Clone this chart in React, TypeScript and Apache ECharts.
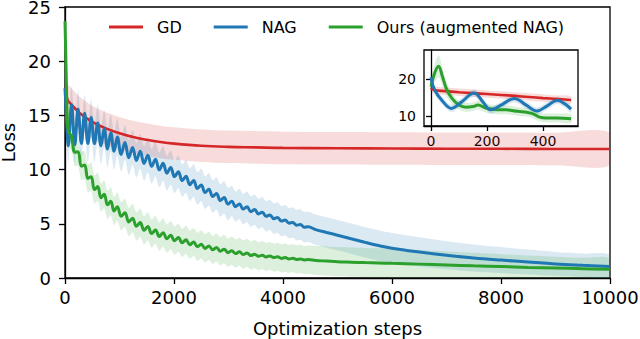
import React, { useEffect, useRef } from "react";
import * as echarts from "echarts";

// ---------- main panel data ----------
const steps = [
  0, 20, 40, 60, 120, 180, 240, 300, 360, 420, 480, 540, 600, 660, 720, 780, 840, 900, 960,
  1030, 1100, 1170, 1240, 1310, 1380, 1450, 1520, 1590, 1660, 1730, 1800, 1870, 1940,
  2010, 2080, 2150, 2220, 2290, 2360, 2430, 2500, 2570, 2640, 2710, 2780, 2850, 2920, 2990,
  3060, 3130, 3200, 3270, 3340, 3410, 3480, 3550, 3620, 3690, 3760, 3830, 3900, 3970,
  4040, 4110, 4180, 4250, 4320, 4390, 4460,
  4600, 4800, 5000, 5250, 5500, 5750, 6000, 6500, 7000, 7500, 8000, 8500, 9000, 9500, 10000,
];

const nagLoss = [
  17.5, 15.6, 13.4, 12.2, 16.0, 12.3, 15.6, 12.4, 15.2, 12.4, 14.8, 12.4, 14.3, 12.2, 13.8, 11.9, 13.4, 11.7, 13.0,
  11.4, 12.5, 11.1, 12.05, 10.84, 11.69, 10.57, 11.33, 10.3, 10.96, 9.98, 10.58, 9.67, 10.19,
  9.34, 9.8, 8.98, 9.39, 8.61, 8.99, 8.25, 8.59, 7.88, 8.19, 7.51, 7.79, 7.15, 7.42, 6.82,
  7.09, 6.58, 6.83, 6.36, 6.57, 6.12, 6.31, 5.91, 6.07, 5.69, 5.82, 5.47, 5.58, 5.25,
  5.34, 5.06, 5.13, 4.87, 4.93, 4.69, 4.72,
  4.46, 4.2, 3.95, 3.62, 3.3, 3.0, 2.75, 2.4, 2.1, 1.85, 1.65, 1.47, 1.3, 1.17, 1.05,
];

const nagSpread = [
  1.7, 1.7, 1.7, 1.7, 1.7, 1.7, 1.7, 1.7, 1.7, 1.7, 1.7, 1.7, 1.7, 1.7, 1.7, 1.7, 1.7, 1.7, 1.7,
  1.6, 1.6, 1.6, 1.6, 1.6, 1.6, 1.6, 1.6, 1.6, 1.6, 1.6, 1.6, 1.6, 1.6,
  1.5, 1.5, 1.5, 1.5, 1.5, 1.5, 1.5, 1.5, 1.5, 1.5, 1.5, 1.5, 1.5, 1.5, 1.5,
  1.4, 1.4, 1.4, 1.4, 1.4, 1.4, 1.4, 1.4, 1.4, 1.4, 1.4, 1.4, 1.4, 1.4,
  1.4, 1.4, 1.4, 1.4, 1.4, 1.4, 1.4,
  1.4, 1.4, 1.4, 1.4, 1.4, 1.4, 1.4, 1.35, 1.3, 1.25, 1.2, 1.15, 1.1, 1.08, 1.05,
];

const oursLoss = [
  23.7, 19.3, 15.0, 13.6, 13.01, 11.61, 11.64, 10.32, 10.42, 9.19, 9.35, 8.16, 8.43, 7.41, 7.72, 6.75, 7.07, 6.18, 6.58,
  5.69, 6.02, 5.17, 5.52, 4.77, 5.11, 4.4, 4.75, 4.1, 4.43, 3.82, 4.18, 3.63, 3.95,
  3.44, 3.73, 3.25, 3.52, 3.07, 3.32, 2.88, 3.11, 2.73, 2.96, 2.6, 2.81, 2.47, 2.66, 2.34,
  2.52, 2.25, 2.42, 2.16, 2.31, 2.07, 2.2, 2.0, 2.11, 1.94, 2.03, 1.88, 1.96, 1.81,
  1.88, 1.76, 1.82, 1.71, 1.76, 1.66, 1.7,
  1.62, 1.56, 1.5, 1.46, 1.42, 1.39, 1.35, 1.28, 1.2, 1.12, 1.05, 0.98, 0.92, 0.86, 0.8,
];

const oursSpread = [
  2.0, 1.6, 1.4, 1.3, 1.3, 1.3, 1.3, 1.3, 1.3, 1.3, 1.3, 1.3, 1.3, 1.3, 1.3, 1.3, 1.3, 1.3, 1.3,
  1.3, 1.3, 1.3, 1.3, 1.3, 1.3, 1.3, 1.3, 1.3, 1.3, 1.3, 1.3, 1.3, 1.3,
  1.3, 1.3, 1.3, 1.3, 1.3, 1.3, 1.3, 1.3, 1.3, 1.3, 1.3, 1.3, 1.3, 1.3, 1.3,
  1.3, 1.3, 1.3, 1.3, 1.3, 1.3, 1.3, 1.3, 1.3, 1.3, 1.3, 1.3, 1.3, 1.3,
  1.3, 1.3, 1.3, 1.3, 1.3, 1.3, 1.3,
  1.35, 1.35, 1.35, 1.35, 1.35, 1.35, 1.35, 1.3, 1.25, 1.2, 1.15, 1.1, 1.05, 1.0, 1.0,
];

const gdSteps = [0, 50, 130, 250, 500, 750, 1000, 1250, 1500, 1750, 2000, 2500, 3000, 3500, 4000, 5000, 6000, 7000, 8000, 9000, 10000];
const gdLoss = [17.5, 16.4, 15.95, 15.3, 14.4, 13.8, 13.35, 13.0, 12.75, 12.55, 12.4, 12.2, 12.1, 12.05, 12.0, 11.97, 11.95, 11.93, 11.92, 11.9, 11.9];
const gdSpread = [1.6, 1.55, 1.5, 1.5, 1.5, 1.5, 1.5, 1.5, 1.5, 1.5, 1.5, 1.5, 1.5, 1.5, 1.5, 1.5, 1.5, 1.5, 1.5, 1.5, 1.5];

// ---------- inset data (first 500 steps) ----------
const insetGdSteps = [0, 10, 50, 100, 150, 200, 250, 300, 350, 400, 450, 500];
const insetGdLoss = [17.8, 17.1, 16.8, 16.5, 16.25, 16.0, 15.75, 15.5, 15.2, 14.9, 14.65, 14.4];
const insetGdSpread = [1.0, 1.0, 1.0, 1.0, 1.0, 1.0, 1.0, 1.0, 1.0, 1.0, 1.0, 1.0];

const insetNagSteps = [0, 12, 40, 73, 110, 154, 185, 213, 255, 297, 340, 378, 415, 451, 480, 500];
const insetNagLoss = [20.6, 17.3, 14.2, 12.1, 13.9, 16.3, 13.9, 11.7, 13.2, 14.8, 13.0, 11.4, 12.8, 14.3, 13.2, 11.9];
const insetNagSpread = [1.4, 1.2, 1.0, 1.0, 1.0, 1.0, 1.0, 1.0, 1.0, 1.0, 1.0, 1.0, 1.0, 1.0, 1.0, 1.0];

const insetOursSteps = [0, 12, 27, 40, 55, 75, 100, 125, 150, 168, 195, 230, 270, 310, 345, 365, 385, 410, 450, 500];
const insetOursLoss = [18.0, 21.5, 23.6, 21.0, 17.5, 14.8, 13.0, 12.4, 12.6, 13.0, 12.2, 11.8, 11.7, 11.3, 11.0, 10.6, 9.8, 9.5, 9.5, 9.3];
const insetOursSpread = [1.5, 2.5, 3.0, 2.5, 2.0, 1.5, 1.2, 1.2, 1.2, 1.2, 1.2, 1.2, 1.2, 1.2, 1.2, 1.2, 1.2, 1.2, 1.2, 1.2];

const insetXTicks = [0, 200, 400];
const insetYTicks = [10, 20];

const RED = "#d62728";
const BLUE = "#1f77b4";
const GREEN = "#2ca02c";
const FONT = "DejaVu Sans";

function band(xs: number[], ys: number[], sp: number[], color: string, xi: number, z: number) {
  const upper = xs.map((x, i) => [x, ys[i] + sp[i]]);
  const lower = xs.map((x, i) => [x, ys[i] - sp[i]]);
  return {
    type: "custom",
    xAxisIndex: xi,
    yAxisIndex: xi,
    silent: true,
    clip: true,
    z,
    data: [[xs[0], ys[0]]],
    renderItem: (params: any, api: any) => {
      const cs = params.coordSys;
      const pts = upper.map((p) => api.coord(p)).concat(lower.slice().reverse().map((p) => api.coord(p)));
      return {
        type: "polygon",
        shape: { points: pts, smooth: 0.3 },
        style: { fill: color, opacity: 0.16 },
        clipPath: { type: "rect", shape: { x: cs.x, y: cs.y, width: cs.width, height: cs.height } },
      };
    },
  };
}

function line(name: string | undefined, xs: number[], ys: number[], color: string, width: number, xi: number, z: number) {
  return {
    type: "line",
    name,
    xAxisIndex: xi,
    yAxisIndex: xi,
    data: xs.map((x, i) => [x, ys[i]]),
    symbol: "none",
    showSymbol: false,
    smooth: 0.4,
    clip: true,
    silent: true,
    z,
    lineStyle: { color, width },
    itemStyle: { color },
  };
}

const plain = (v: number) => String(v);

export default function App() {
  const ref = useRef<HTMLDivElement>(null);
  useEffect(() => {
    if (!ref.current) return;
    const chart = echarts.init(ref.current, undefined, { renderer: "svg" });
    const axisLine = { show: true, lineStyle: { color: "#000", width: 1.3 } };
    const tick = (len: number, extra: any = {}) => ({ show: true, inside: false, length: len, lineStyle: { color: "#000", width: 1.3 }, ...extra });
    chart.setOption({
      animation: false,
      backgroundColor: "#fff",
      grid: [
        { left: 65, top: 7, width: 545, height: 271, show: true, borderColor: "#000", borderWidth: 1.3, backgroundColor: "transparent", containLabel: false, outerBoundsMode: "none" },
        { left: 424, top: 50, width: 154, height: 76, show: true, borderColor: "#000", borderWidth: 1.3, backgroundColor: "transparent", containLabel: false, outerBoundsMode: "none" },
      ],
      legend: {
        left: 109,
        top: 19,
        padding: 0,
        itemWidth: 34,
        itemHeight: 3,
        itemGap: 32,
        selectedMode: false,
        data: [
          { name: "GD", icon: "rect" },
          { name: "NAG", icon: "rect" },
          { name: "Ours (augmented NAG)", icon: "rect" },
        ],
        textStyle: { fontFamily: FONT, fontSize: 16, color: "#000", padding: [0, 0, 0, 9] },
      },
      xAxis: [
        {
          type: "value",
          gridIndex: 0,
          min: 0,
          max: 10000,
          interval: 2000,
          name: "Optimization steps",
          nameLocation: "middle",
          nameGap: 41,
          nameTextStyle: { fontFamily: FONT, fontSize: 18, color: "#000" },
          axisLine,
          axisTick: tick(6),
          axisLabel: { fontFamily: FONT, fontSize: 18, color: "#000", margin: 10, formatter: plain },
          splitLine: { show: false },
        },
        {
          type: "value",
          gridIndex: 1,
          min: -25,
          max: 525,
          axisLine,
          axisTick: tick(5, { customValues: insetXTicks }),
          axisLabel: { fontFamily: FONT, fontSize: 14, color: "#000", margin: 8, customValues: insetXTicks, formatter: plain },
          splitLine: { show: false },
        },
      ],
      yAxis: [
        {
          type: "value",
          gridIndex: 0,
          min: 0,
          max: 25,
          interval: 5,
          name: "Loss",
          nameLocation: "middle",
          nameGap: 44,
          nameTextStyle: { fontFamily: FONT, fontSize: 18, color: "#000", lineHeight: 18 },
          axisLine,
          axisTick: tick(6),
          axisLabel: { fontFamily: FONT, fontSize: 18, color: "#000", margin: 14, lineHeight: 14, formatter: plain },
          splitLine: { show: false },
        },
        {
          type: "value",
          gridIndex: 1,
          min: 7.3,
          max: 28,
          axisLine,
          axisTick: tick(5, { customValues: insetYTicks }),
          axisLabel: { fontFamily: FONT, fontSize: 14, color: "#000", margin: 8, customValues: insetYTicks, formatter: plain },
          splitLine: { show: false },
        },
      ],
      series: [
        band(gdSteps, gdLoss, gdSpread, RED, 0, 1),
        band(steps, nagLoss, nagSpread, BLUE, 0, 1),
        band(steps, oursLoss, oursSpread, GREEN, 0, 1),
        line("GD", gdSteps, gdLoss, RED, 2.6, 0, 3),
        line("NAG", steps, nagLoss, BLUE, 3, 0, 4),
        line("Ours (augmented NAG)", steps, oursLoss, GREEN, 3, 0, 5),
        band(insetGdSteps, insetGdLoss, insetGdSpread, RED, 1, 1),
        band(insetNagSteps, insetNagLoss, insetNagSpread, BLUE, 1, 1),
        band(insetOursSteps, insetOursLoss, insetOursSpread, GREEN, 1, 1),
        line(undefined, insetGdSteps, insetGdLoss, RED, 2.6, 1, 3),
        line(undefined, insetOursSteps, insetOursLoss, GREEN, 3, 1, 4),
        line(undefined, insetNagSteps, insetNagLoss, BLUE, 3, 1, 5),
      ],
    });
    return () => chart.dispose();
  }, []);
  return <div ref={ref} style={{ width: 640, height: 339, position: "absolute", left: 0, top: 0 }} />;
}
